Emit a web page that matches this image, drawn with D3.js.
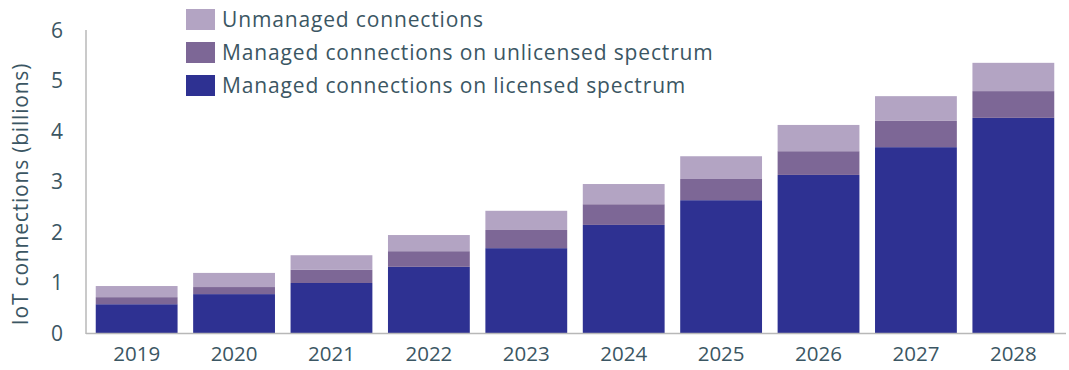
<!DOCTYPE html>
<html><head><meta charset="utf-8">
<script src="https://cdn.jsdelivr.net/npm/d3@7"></script>
<style>body{margin:0;background:#fff}svg{display:block}text{font-family:"Open Sans",sans-serif;fill:#3b5663}</style>
</head><body>
<svg id="c" width="1069" height="370"></svg>
<script>
const years = ["2019","2020","2021","2022","2023","2024","2025","2026","2027","2028"];
const licensed   = [0.57,0.77,0.99,1.31,1.68,2.14,2.63,3.13,3.68,4.26];
const unlicensed = [0.14,0.14,0.26,0.31,0.36,0.41,0.42,0.47,0.52,0.53];
const unmanaged  = [0.22,0.28,0.29,0.32,0.38,0.40,0.45,0.52,0.49,0.56];
const seriesNames = ["Managed connections on licensed spectrum","Managed connections on unlicensed spectrum","Unmanaged connections"];
const seriesColors = ["#2e3192","#7d6796","#b3a4c3"];
const yTicks = [0,1,2,3,4,5,6];

const svg = d3.select("#c");
const x = d3.scaleBand().domain(years).range([86,1064]).paddingInner(0.16).paddingOuter(0.1);
const y = d3.scaleLinear().domain([0,6]).range([333,30]);

const rows = years.map((yr,i)=>({year:yr, lic:licensed[i], unl:unlicensed[i], unm:unmanaged[i]}));
const stack = d3.stack().keys(["lic","unl","unm"])(rows);

svg.selectAll("g.s").data(stack).join("g").attr("fill",(d,i)=>seriesColors[i])
  .selectAll("rect").data(d=>d).join("rect")
  .attr("x",d=>x(d.data.year)).attr("width",x.bandwidth())
  .attr("y",d=>y(d[1])).attr("height",d=>y(d[0])-y(d[1]));

// axes
svg.append("line").attr("x1",86).attr("x2",1066).attr("y1",333.5).attr("y2",333.5).attr("stroke","#b8b8b8").attr("stroke-width",1.5);
svg.append("line").attr("x1",86).attr("x2",86).attr("y1",30).attr("y2",334).attr("stroke","#b8b8b8").attr("stroke-width",1.5);

const yAxis = d3.axisLeft(y).tickValues(yTicks).tickSize(0).tickPadding(0).tickFormat(d3.format("d"));
const gy = svg.append("g").attr("transform","translate(63,0)").call(yAxis);
gy.select(".domain").remove();
gy.selectAll("text").attr("font-size",21).attr("font-family","Open Sans").attr("fill","#3b5663").attr("dy","0.35em");

const xAxis = d3.axisBottom(x).tickSize(0).tickPadding(0);
const gx = svg.append("g").attr("transform","translate(0,346)").call(xAxis);
gx.select(".domain").remove();
gx.selectAll("text").attr("font-size",20.5).attr("font-family","Open Sans").attr("fill","#3b5663").attr("dy","0.75em");

svg.append("text").attr("transform","translate(28,194) rotate(-90)").attr("text-anchor","middle")
  .attr("font-size",21).attr("letter-spacing",0.8).text("IoT connections (billions)");

// legend
const legOrder = [2,1,0];
const lg = svg.append("g").selectAll("g").data(legOrder).join("g")
  .attr("transform",(d,i)=>`translate(186,${9+i*33})`);
lg.append("rect").attr("width",29).attr("height",21).attr("fill",d=>seriesColors[d]);
lg.append("text").attr("x",36).attr("y",10.5).attr("dy","0.36em").attr("font-size",21).attr("letter-spacing",0.85).text(d=>seriesNames[d]);
</script>
</body></html>
